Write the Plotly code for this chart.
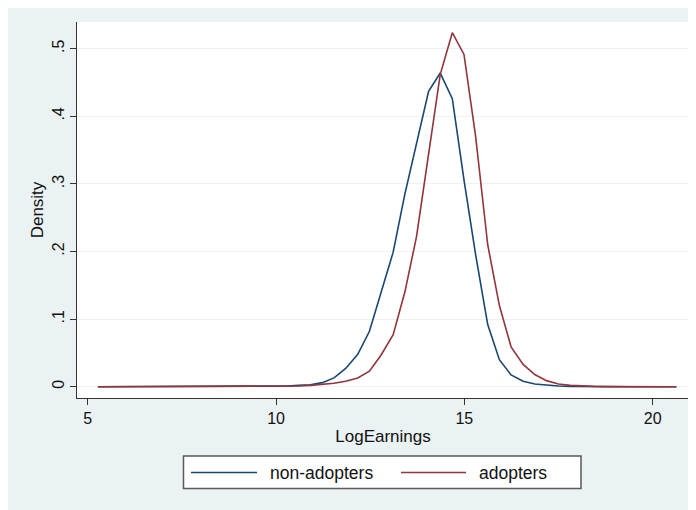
import plotly.graph_objects as go

# Evaluation grid (LogEarnings) shared by both density estimates
log_earnings = [5.27, 5.58, 5.90, 6.21, 6.52, 6.84, 7.15, 7.46, 7.78, 8.09,
                8.41, 8.72, 9.03, 9.35, 9.66, 9.97, 10.29, 10.60, 10.91, 11.23,
                11.54, 11.85, 12.17, 12.48, 12.79, 13.11, 13.42, 13.73, 14.05, 14.36,
                14.68, 14.99, 15.30, 15.62, 15.93, 16.24, 16.56, 16.87, 17.18, 17.50,
                17.81, 18.12, 18.44, 18.75, 19.07, 19.38, 19.69, 20.01, 20.32, 20.63]

density_non_adopters = [0, 0, 0, 0, 0, 0, 0, 0, 0, 0,
                        0, 0, 0, 0, 0.0003, 0.0006, 0.001, 0.002, 0.003, 0.006,
                        0.013, 0.027, 0.048, 0.082, 0.14, 0.199, 0.285, 0.362, 0.437, 0.464,
                        0.426, 0.306, 0.195, 0.092, 0.040, 0.0175, 0.008, 0.004, 0.002, 0.001,
                        0.0005, 0.0002, 0, 0, 0, 0, 0, 0, 0, 0]

density_adopters = [0, 0, 0, 0, 0, 0, 0, 0, 0, 0,
                    0, 0, 0, 0, 0.0002, 0.0004, 0.0007, 0.001, 0.002, 0.003,
                    0.005, 0.008, 0.013, 0.023, 0.047, 0.077, 0.14, 0.222, 0.345, 0.462,
                    0.5237, 0.4916, 0.37, 0.21, 0.12, 0.059, 0.033, 0.018, 0.009, 0.004,
                    0.002, 0.001, 0.0005, 0.0002, 0, 0, 0, 0, 0, 0]

series_names = ["non-adopters", "adopters"]
series_colors = ["#1A476F", "#90353B"]

x_ticks = [5, 10, 15, 20]
y_ticks = [0, 0.1, 0.2, 0.3, 0.4, 0.5]
y_tick_labels = ["0", ".1", ".2", ".3", ".4", ".5"]

BG = "#EAF2F3"
FONT = "Liberation Sans, Arial, sans-serif"

fig = go.Figure()
for name, ys, col in zip(series_names, [density_non_adopters, density_adopters], series_colors):
    fig.add_trace(go.Scatter(x=log_earnings, y=ys, mode="lines", name=name,
                             line=dict(color=col, width=1.6), showlegend=False))

# The page puts the figure 8px from the top-left corner, so the figure is
# sized and laid out in page pixels minus that offset.
OFF = 8
W, H = 696 - OFF, 510 - OFF
L, R = 77 - OFF, 7
T = 22 - OFF
B = H - (398 - OFF)
pw, ph = W - L - R, H - T - B

def px2paper_x(p):
    return (p - OFF - L) / pw

def px2paper_y(p):
    return (H - B - (p - OFF)) / ph

shapes = [
    dict(type="rect", xref="paper", yref="paper", layer="above",
         x0=px2paper_x(183.5), x1=px2paper_x(581), y0=px2paper_y(456), y1=px2paper_y(488.5),
         fillcolor="white", line=dict(color="#5a5a5a", width=1.5)),
]
annotations = []
legend_items = [(191, 257, 268), (401, 466, 477)]
for (lx0, lx1, tx), name, col in zip(legend_items, series_names, series_colors):
    yy = px2paper_y(472.5)
    shapes.append(dict(type="line", xref="paper", yref="paper", layer="above",
                       x0=px2paper_x(lx0), x1=px2paper_x(lx1), y0=yy, y1=yy,
                       line=dict(color=col, width=1.6)))
    annotations.append(dict(xref="paper", yref="paper", x=px2paper_x(tx), y=yy,
                            text=name, showarrow=False, xanchor="left", yanchor="middle",
                            font=dict(family=FONT, size=17.5, color="#111")))

fig.update_layout(
    width=W, height=H,
    margin=dict(l=L, r=R, t=T, b=B, pad=0),
    paper_bgcolor=BG,
    plot_bgcolor="white",
    font=dict(family=FONT, color="#111"),
    shapes=shapes,
    annotations=annotations,
    showlegend=False,
    xaxis=dict(range=[4.716, 20.964], tickvals=x_ticks, ticks="outside", ticklen=6,
               tickcolor="#333", tickwidth=1, showgrid=False, zeroline=False,
               showline=True, linecolor="#333", linewidth=1.2,
               tickfont=dict(size=16, family=FONT, color="#111"),
               title=dict(text="LogEarnings", font=dict(size=17, family=FONT, color="#111"),
                          standoff=3)),
    yaxis=dict(range=[-0.0167, 0.5395], tickvals=y_ticks, ticktext=y_tick_labels,
               tickangle=-90, ticks="outside", ticklen=6, tickcolor="#333", tickwidth=1,
               showgrid=True, gridcolor=BG, gridwidth=1.2, zeroline=False,
               showline=True, linecolor="#333", linewidth=1.2,
               tickfont=dict(size=16, family=FONT, color="#111"),
               title=dict(text="Density", font=dict(size=17, family=FONT, color="#111"),
                          standoff=1)),
)

fig.write_html("out.html")
